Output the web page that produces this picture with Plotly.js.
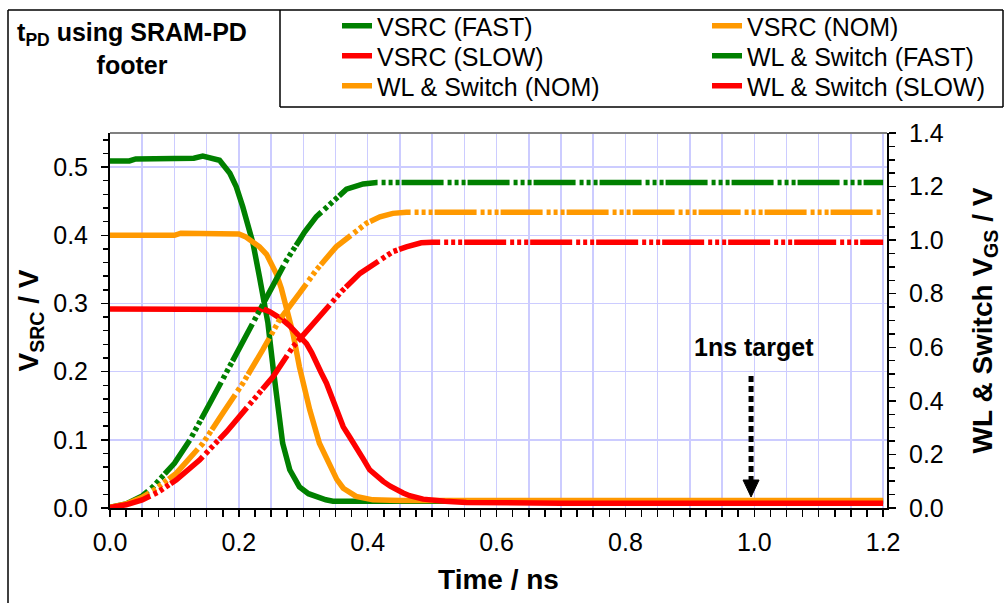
<!DOCTYPE html>
<html><head><meta charset="utf-8">
<script src="https://cdn.plot.ly/plotly-3.0.1.min.js"></script>
<style>html,body{margin:0;padding:0;background:#fff}</style>
</head><body><div id="chart" style="width:1005px;height:603px"></div>
<script>
// ---- data (time in ns, voltages in V) ----
const vsrcFastT = [0, 0.03, 0.04, 0.10, 0.13, 0.144, 0.155, 0.17, 0.186, 0.196, 0.206, 0.217, 0.222, 0.232, 0.240, 0.245, 0.253, 0.261, 0.268, 0.279, 0.294, 0.308, 0.321, 0.335, 0.346, 0.37, 0.40, 0.5, 0.7, 0.9, 1.2];
const vsrcFastV = [0.509, 0.509, 0.512, 0.512, 0.513, 0.516, 0.514, 0.510, 0.491, 0.471, 0.442, 0.408, 0.388, 0.339, 0.295, 0.272, 0.207, 0.144, 0.095, 0.056, 0.031, 0.021, 0.016, 0.012, 0.010, 0.010, 0.010, 0.010, 0.010, 0.010, 0.010];

const vsrcNomT = [0, 0.10, 0.11, 0.19, 0.20, 0.21, 0.222, 0.232, 0.243, 0.258, 0.266, 0.274, 0.284, 0.294, 0.31, 0.325, 0.341, 0.352, 0.362, 0.382, 0.408, 0.45, 0.6, 0.8, 1.0, 1.2];
const vsrcNomV = [0.400, 0.400, 0.403, 0.403, 0.402, 0.398, 0.391, 0.383, 0.372, 0.344, 0.322, 0.292, 0.256, 0.207, 0.144, 0.095, 0.061, 0.042, 0.029, 0.017, 0.012, 0.011, 0.011, 0.011, 0.011, 0.011];

const vsrcSlowT = [0, 0.23, 0.24, 0.248, 0.258, 0.268, 0.279, 0.289, 0.297, 0.305, 0.313, 0.320, 0.328, 0.336, 0.344, 0.351, 0.362, 0.372, 0.382, 0.393, 0.403, 0.414, 0.424, 0.435, 0.445, 0.455, 0.465, 0.486, 0.52, 0.553, 0.7, 0.9, 1.2];
const vsrcSlowV = [0.292, 0.292, 0.291, 0.288, 0.283, 0.276, 0.267, 0.256, 0.249, 0.241, 0.228, 0.212, 0.198, 0.183, 0.163, 0.144, 0.119, 0.104, 0.090, 0.072, 0.056, 0.046, 0.039, 0.032, 0.026, 0.022, 0.018, 0.013, 0.010, 0.008, 0.007, 0.007, 0.007];

const wlFastT = [0, 0.025, 0.05, 0.067, 0.10, 0.124, 0.155, 0.191, 0.217, 0.240, 0.258, 0.274, 0.294, 0.302, 0.320, 0.346, 0.367, 0.393, 0.414, 0.45, 0.6, 0.8, 1.0, 1.2];
const wlFastV = [0.003, 0.015, 0.045, 0.080, 0.167, 0.254, 0.391, 0.552, 0.664, 0.776, 0.857, 0.925, 1.000, 1.030, 1.087, 1.147, 1.190, 1.210, 1.215, 1.215, 1.215, 1.215, 1.215, 1.215];

const wlNomT = [0, 0.025, 0.05, 0.072, 0.103, 0.144, 0.175, 0.206, 0.237, 0.263, 0.294, 0.320, 0.351, 0.377, 0.398, 0.419, 0.439, 0.46, 0.6, 0.8, 1.0, 1.2];
const wlNomV = [0.003, 0.015, 0.040, 0.073, 0.130, 0.241, 0.354, 0.465, 0.590, 0.702, 0.801, 0.888, 0.975, 1.025, 1.063, 1.087, 1.100, 1.104, 1.104, 1.104, 1.104, 1.104];

const wlSlowT = [0, 0.025, 0.05, 0.075, 0.103, 0.139, 0.181, 0.217, 0.253, 0.284, 0.305, 0.320, 0.331, 0.346, 0.360, 0.388, 0.419, 0.439, 0.46, 0.483, 0.5, 0.7, 0.9, 1.2];
const wlSlowV = [0.002, 0.012, 0.030, 0.060, 0.105, 0.179, 0.285, 0.391, 0.490, 0.602, 0.658, 0.702, 0.725, 0.770, 0.810, 0.876, 0.926, 0.957, 0.975, 0.990, 0.992, 0.992, 0.992, 0.992];

const seriesNames = ['VSRC (FAST)', 'VSRC (NOM)', 'VSRC (SLOW)', 'WL & Switch (FAST)', 'WL & Switch (NOM)', 'WL & Switch (SLOW)'];
const xTickLabelVals = [0, 0.2, 0.4, 0.6, 0.8, 1.0, 1.2];
const xTickLabels = ['0.0', '0.2', '0.4', '0.6', '0.8', '1.0', '1.2'];
const targetTime = 1.0;
const targetLabel = '1ns target';

// ---- layout geometry ----
const W = 1005, H = 603, M = {l: 110, r: 118, t: 133, b: 95, autoexpand: false};
const PW = W - M.l - M.r, PH = H - M.t - M.b;
const px = p => (p - M.l) / PW;      // pixel x -> paper
const py = p => (H - M.b - p) / PH;  // pixel y -> paper
const XMAX = 1.206;

const GREEN = '#008000', ORANGE = '#FF9900', RED = '#FF0000';
const WL_DASH = '42px,4px,4px,3px,4px,3px,4px,2px';

// legend slot for each series: [column text start px, row anchor px]
const legendSlots = [[377, 26], [747, 26], [377, 56], [747, 56], [377, 86], [747, 86]];

const traces = [
  {x: vsrcFastT, y: vsrcFastV, line: {color: GREEN, width: 5.5}},
  {x: vsrcNomT, y: vsrcNomV, line: {color: ORANGE, width: 5.5}},
  {x: vsrcSlowT, y: vsrcSlowV, line: {color: RED, width: 5.5}},
  {x: wlFastT, y: wlFastV, yaxis: 'y2', line: {color: GREEN, width: 5.5, dash: WL_DASH}},
  {x: wlNomT, y: wlNomV, yaxis: 'y2', line: {color: ORANGE, width: 5.5, dash: WL_DASH}},
  {x: wlSlowT, y: wlSlowV, yaxis: 'y2', line: {color: RED, width: 5.5, dash: WL_DASH}}
].map((t, i) => Object.assign({type: 'scatter', mode: 'lines', name: seriesNames[i],
  legend: i === 0 ? 'legend' : 'legend' + (i + 1), hoverinfo: 'x+y+name'}, t));

// full tick positions every 0.025 with labels only at 0.2 steps
const xTickVals = [], xTickText = [];
for (let i = 0; i <= 48; i++) {
  const v = +(i * 0.025).toFixed(3);
  xTickVals.push(v);
  const k = xTickLabelVals.findIndex(q => Math.abs(q - v) < 1e-6);
  xTickText.push(k >= 0 ? xTickLabels[k] : '');
}

const FONT = 'Liberation Sans, Arial, sans-serif';
const GRID = '#CCCCFF';

const blackLine = (x0, y0, x1, y1, w) => ({type: 'line', xref: 'paper', yref: 'paper', x0: px(x0), y0: py(y0), x1: px(x1), y1: py(y1), line: {color: '#000', width: w || 1.5}});

const arrowX = targetTime - 0.005;
const arrowPx = M.l + arrowX / XMAX * PW;

const layout = {
  width: W, height: H, margin: M,
  paper_bgcolor: '#fff', plot_bgcolor: '#fff',
  showlegend: true,
  title: {
    text: '<b>t<sub>PD</sub> using SRAM-PD<br>footer</b>',
    x: 132 / W, xanchor: 'center', xref: 'container',
    y: 1 - 41 / H, yanchor: 'middle', yref: 'container',
    font: {family: FONT, size: 25, color: '#000'}
  },
  xaxis: {
    range: [0, XMAX], tickmode: 'array', tickvals: xTickVals, ticktext: xTickText,
    ticks: 'outside', ticklen: 7, tickwidth: 1.5, tickcolor: '#000',
    showgrid: false, zeroline: false,
    minor: {dtick: 0.05, tick0: 0, showgrid: true, gridcolor: GRID, gridwidth: 1.5, ticks: ''},
    showline: true, linecolor: '#000', linewidth: 2,
    tickfont: {family: FONT, size: 25, color: '#000'}, ticklabelstandoff: 4,
    title: {text: '<b>Time / ns</b>', font: {family: FONT, size: 28, color: '#000'}, standoff: 14}
  },
  yaxis: {
    range: [0, 0.55], dtick: 0.1, tick0: 0, tickformat: '.1f',
    ticks: 'outside', ticklen: 7, tickwidth: 1.5, tickcolor: '#000',
    minor: {dtick: 0.02, tick0: 0, ticks: 'outside', ticklen: 5, tickwidth: 1.5, tickcolor: '#000', showgrid: false},
    showgrid: true, gridcolor: GRID, gridwidth: 1.5, zeroline: false,
    showline: true, linecolor: '#000', linewidth: 2,
    tickfont: {family: FONT, size: 25, color: '#000'}, ticklabelstandoff: 8,
    title: {text: '<b>V<sub>SRC</sub> / V</b>', font: {family: FONT, size: 28, color: '#000'}, standoff: 6}
  },
  yaxis2: {
    overlaying: 'y', side: 'right', anchor: 'x',
    range: [0, 1.4], dtick: 0.2, tick0: 0, tickformat: '.1f',
    ticks: 'outside', ticklen: 7, tickwidth: 1.5, tickcolor: '#000',
    minor: {dtick: 0.05, tick0: 0, ticks: 'outside', ticklen: 6, tickwidth: 1.5, tickcolor: '#000', showgrid: false},
    showgrid: false, zeroline: false,
    showline: true, linecolor: '#000', linewidth: 2,
    tickfont: {family: FONT, size: 25, color: '#000'}, ticklabelstandoff: 8,
    title: {text: '<b>WL &amp; Switch V<sub>GS</sub> / V</b>', font: {family: FONT, size: 28, color: '#000'}, standoff: 30}
  },
  shapes: [
    {type: 'line', xref: 'paper', yref: 'paper', x0: 0, x1: 1, y0: 1, y1: 1, line: {color: '#808080', width: 2}},
    blackLine(8, 10, 1003, 10),
    blackLine(8, 10, 8, 603),
    blackLine(280, 10, 280, 107),
    blackLine(280, 107, 1003, 107),
    blackLine(1003, 10, 1003, 107),
    {type: 'line', xref: 'paper', yref: 'paper', x0: px(arrowPx), x1: px(arrowPx), y0: py(376), y1: py(482),
     line: {color: '#000', width: 5, dash: '6px,4px'}},
    {type: 'path', xref: 'paper', yref: 'paper', fillcolor: '#000', line: {color: '#000', width: 1},
     path: `M ${px(arrowPx - 8)},${py(480)} L ${px(arrowPx + 8)},${py(480)} L ${px(arrowPx)},${py(497)} Z`}
  ],
  annotations: [
    {xref: 'x', yref: 'paper', x: targetTime, y: py(347), text: '<b>' + targetLabel + '</b>', showarrow: false,
     xanchor: 'center', yanchor: 'middle', font: {family: FONT, size: 25, color: '#000'}}
  ]
};

legendSlots.forEach((s, i) => {
  layout[i === 0 ? 'legend' : 'legend' + (i + 1)] = {
    orientation: 'v', xanchor: 'left', yanchor: 'middle', x: px(s[0] - 40), y: py(s[1]),
    bgcolor: 'rgba(0,0,0,0)', borderwidth: 0, itemwidth: 30,
    font: {family: FONT, size: 25, color: '#000'}
  };
});

Plotly.newPlot('chart', traces, layout, {displayModeBar: false, staticPlot: true});
</script>
</body></html>
